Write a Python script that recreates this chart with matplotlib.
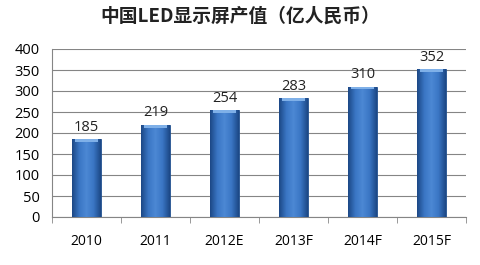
import matplotlib
matplotlib.use("Agg")
import matplotlib.pyplot as plt
import numpy as np
from matplotlib.colors import LinearSegmentedColormap

categories = ["2010", "2011", "2012E", "2013F", "2014F", "2015F"]
values = [185, 219, 254, 283, 310, 352]
yticks = [0, 50, 100, 150, 200, 250, 300, 350, 400]
title = "中国LED显示屏产值（亿人民币）"

plt.rcParams['font.family'] = ['Open Sans', 'Noto Sans CJK SC', 'DejaVu Sans']

fig = plt.figure(figsize=(4.8, 2.65), dpi=100)
ax = fig.add_axes([52/480, 1-217/265, (466-52)/480, (217-49)/265])

x = np.arange(len(categories))
width = 0.41
bars = ax.bar(x, values, width=width, color="#3570BD", edgecolor="#22508C", linewidth=0.6, zorder=3)

cmap = LinearSegmentedColormap.from_list("b", ["#1C4886", "#3A76C4", "#4C88D4", "#3A76C4", "#1C4886"])
grad = np.linspace(0, 1, 64).reshape(1, -1)
for b in bars:
    x0, y0 = b.get_x(), b.get_y()
    w, h = b.get_width(), b.get_height()
    im = ax.imshow(grad, cmap=cmap, extent=[x0, x0 + w, y0, y0 + h], aspect='auto', zorder=3.5)
    im.set_clip_path(b)
    # top bevel
    ax.bar(x0 + w/2, 6, bottom=y0 + h - 6, width=w*0.8, color="#7FB0E8", linewidth=0, zorder=4)

for xi, v in zip(x, values):
    ax.text(xi, v + 11, str(v), ha='center', va='bottom', fontsize=10.5, color="#222222", zorder=5)

ax.set_xlim(-0.5, len(categories) - 0.5)
ax.set_ylim(0, 400)
ax.set_yticks(yticks)
ax.set_yticklabels([str(t) for t in yticks], fontsize=10.5)
ax.set_xticks(x)
ax.set_xticklabels(categories, fontsize=10)
ax.set_xticks(np.arange(-0.5, len(categories), 1), minor=True)
ax.tick_params(axis='x', which='major', length=0, pad=12)
ax.tick_params(axis='x', which='minor', length=4, color="#888888", direction='out')
ax.tick_params(axis='y', length=0, pad=9)
ax.grid(axis='y', color="#858585", linewidth=0.8, zorder=0)
for s in ['top', 'right']:
    ax.spines[s].set_visible(False)
ax.spines['left'].set_color("#858585")
ax.spines['bottom'].set_color("#858585")

fig.text(0.5, 1 - 16/265, title, ha='center', va='center', fontsize=13.5, fontweight='bold',
         family=['Noto Sans CJK SC', 'DejaVu Sans'], color="#222222")

fig.savefig("out.png", dpi=100)
